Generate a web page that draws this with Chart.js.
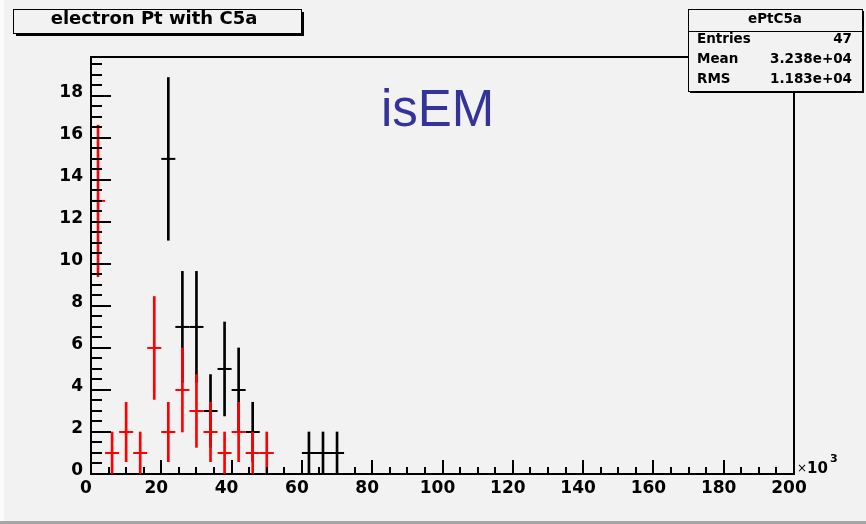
<!DOCTYPE html>
<html>
<head>
<meta charset="utf-8">
<script src="https://cdn.jsdelivr.net/npm/chart.js@4.4.1/dist/chart.umd.min.js"></script>
<style>
  html, body { margin: 0; padding: 0; background: #f2f2f2; }
  #wrap { width: 866px; height: 524px; }
</style>
</head>
<body>
<div id="wrap"><canvas id="ept" width="866" height="524"></canvas></div>
<script>
// histogram bins, x axis in units of 10^3, each bin 4 wide
const binWidth = 4;
const binCenters  = [2, 6, 10, 14, 18, 22, 26, 30, 34, 38, 42, 46, 50, 54, 58, 62, 66, 70];
const redCounts   = [13, 1, 2, 1, 6, 2, 4, 3, 2, 1, 2, 1, 1, 0, 0, 0, 0, 0];
const blackCounts = [0, 0, 0, 0, 0, 15, 7, 7, 3, 5, 4, 2, 0, 0, 0, 1, 1, 1];

const xTicks = [0, 20, 40, 60, 80, 100, 120, 140, 160, 180, 200];
const yTicks = [0, 2, 4, 6, 8, 10, 12, 14, 16, 18];
const xMinorStep = 5;
const yMinorStep = 0.5;

const histTitle = 'electron Pt with C5a';
const statsName = 'ePtC5a';
const statsRows = [['Entries', '47'], ['Mean', '3.238e+04'], ['RMS', '1.183e+04']];
const cutLabel = 'isEM';

const rootFont = 'DejaVu Sans';

// poisson error bars, like ROOT's "E" option
function errBars(counts) {
    return binCenters
        .map((c, i) => ({ x: c, n: counts[i] }))
        .filter(p => p.n > 0)
        .map(p => ({ x: p.x, y: [p.n - Math.sqrt(p.n), p.n + Math.sqrt(p.n)] }));
}
function centres(counts) {
    return binCenters
        .map((c, i) => ({ x: c, y: counts[i] }))
        .filter(p => p.y > 0);
}

// half a bin in pixels, for the horizontal bar
function halfBin(ctx) {
    const s = ctx.chart.scales.x;
    return (s.getPixelForValue(binWidth) - s.getPixelForValue(0)) / 2;
}

function drawBox(ctx, x, y, w, h, sh) {
    ctx.fillStyle = '#000';
    ctx.fillRect(x + sh, y + sh, w, h);
    ctx.fillStyle = '#f2f2f2';
    ctx.fillRect(x, y, w, h);
    ctx.strokeStyle = '#000';
    ctx.lineWidth = 1;
    ctx.strokeRect(x + 0.5, y + 0.5, w, h);
    ctx.fillStyle = '#000';
}

const rootDecor = {
    id: 'rootDecor',
    beforeDraw(chart) {
        const ctx = chart.ctx;
        ctx.save();
        ctx.fillStyle = '#f2f2f2';
        ctx.fillRect(0, 0, chart.width, chart.height);
        ctx.fillStyle = '#fbfbfb';
        ctx.fillRect(0, 0, 4, chart.height);
        ctx.fillStyle = '#a6a6a6';
        ctx.fillRect(0, 521, chart.width, 3);
        ctx.restore();
    },
    afterDraw(chart) {
        const ctx = chart.ctx;
        const a = chart.chartArea;
        const sx = chart.scales.x, sy = chart.scales.y;
        ctx.save();

        // frame top and right
        ctx.strokeStyle = '#000';
        ctx.lineWidth = 2;
        ctx.beginPath();
        ctx.moveTo(a.left, a.top);
        ctx.lineTo(a.right, a.top);
        ctx.lineTo(a.right, a.bottom);
        ctx.stroke();

        // inward ticks, major and minor
        ctx.beginPath();
        for (let v = sy.min; v <= sy.max + 1e-9; v += yMinorStep) {
            const py = Math.round(sy.getPixelForValue(v));
            const len = yTicks.includes(v) ? 20 : 11;
            ctx.moveTo(a.left, py);
            ctx.lineTo(a.left + len, py);
        }
        for (let v = sx.min; v <= sx.max + 1e-9; v += xMinorStep) {
            const px = Math.round(sx.getPixelForValue(v));
            const len = xTicks.includes(v) ? 14 : 7;
            ctx.moveTo(px, a.bottom);
            ctx.lineTo(px, a.bottom - len);
        }
        ctx.stroke();

        // x10^3 on the x axis end
        ctx.fillStyle = '#000';
        ctx.textBaseline = 'alphabetic';
        ctx.textAlign = 'left';
        ctx.font = '12px ' + rootFont;
        ctx.fillText('\u00d7', a.right + 3, 472);
        ctx.font = 'bold 15px ' + rootFont;
        ctx.fillText('10', a.right + 13, 473);
        ctx.font = 'bold 11px ' + rootFont;
        ctx.fillText('3', a.right + 36, 462);

        // title box
        drawBox(ctx, 13, 9, 288, 24, 3);
        ctx.font = 'bold 18px ' + rootFont;
        ctx.textAlign = 'center';
        ctx.textBaseline = 'middle';
        ctx.fillText(histTitle, 154, 19);

        // stats box
        drawBox(ctx, 688, 9, 174, 82, 2);
        ctx.beginPath();
        ctx.lineWidth = 1;
        ctx.moveTo(688, 31.5);
        ctx.lineTo(862, 31.5);
        ctx.stroke();
        ctx.font = 'bold 13.5px ' + rootFont;
        ctx.fillText(statsName, 775, 19);
        statsRows.forEach((r, i) => {
            const y = 39 + i * 20.3;
            ctx.textAlign = 'left';
            ctx.fillText(r[0], 697, y);
            ctx.textAlign = 'right';
            ctx.fillText(r[1], 852, y);
        });

        // cut label
        ctx.fillStyle = '#333399';
        ctx.font = '51px "Liberation Sans"';
        ctx.textAlign = 'left';
        ctx.textBaseline = 'alphabetic';
        ctx.fillText(cutLabel, 381, 126);

        ctx.restore();
    }
};

const tickFont = { family: rootFont, size: 17, weight: 'bold' };

new Chart(document.getElementById('ept'), {
    type: 'scatter',
    data: {
        datasets: [{
            // red drawn on top, so it goes first
            type: 'bar',
            data: errBars(redCounts),
            backgroundColor: '#ff0000',
            barThickness: 2,
            grouped: false,
            borderWidth: 0
        }, {
            type: 'scatter',
            data: centres(redCounts),
            pointStyle: 'line',
            pointRadius: halfBin,
            pointHoverRadius: halfBin,
            pointBorderWidth: 2,
            pointBorderColor: '#ff0000',
            showLine: false
        }, {
            type: 'bar',
            data: errBars(blackCounts),
            backgroundColor: '#000000',
            barThickness: 2,
            grouped: false,
            borderWidth: 0
        }, {
            type: 'scatter',
            data: centres(blackCounts),
            pointStyle: 'line',
            pointRadius: halfBin,
            pointHoverRadius: halfBin,
            pointBorderWidth: 2,
            pointBorderColor: '#000000',
            showLine: false
        }]
    },
    options: {
        responsive: false,
        animation: false,
        events: [],
        devicePixelRatio: 1,
        layout: { padding: { left: 0, top: 57, right: 72, bottom: 0 } },
        plugins: { legend: { display: false }, tooltip: { enabled: false } },
        scales: {
            x: {
                type: 'linear',
                offset: false,
                min: 0,
                max: 200,
                afterBuildTicks: s => { s.ticks = xTicks.map(v => ({ value: v })); },
                afterFit: s => { s.height = 50; },
                ticks: { font: tickFont, color: '#000', padding: 4, labelOffset: -5, maxRotation: 0, autoSkip: false },
                grid: { drawOnChartArea: false, drawTicks: false },
                border: { color: '#000', width: 2 }
            },
            y: {
                type: 'linear',
                min: 0,
                max: 19.85,
                afterBuildTicks: s => { s.ticks = yTicks.map(v => ({ value: v })); },
                afterFit: s => { s.width = 91; },
                ticks: { font: tickFont, color: '#000', padding: 8, labelOffset: -3, autoSkip: false },
                grid: { drawOnChartArea: false, drawTicks: false },
                border: { color: '#000', width: 2 }
            }
        }
    },
    plugins: [rootDecor]
});
</script>
</body>
</html>
